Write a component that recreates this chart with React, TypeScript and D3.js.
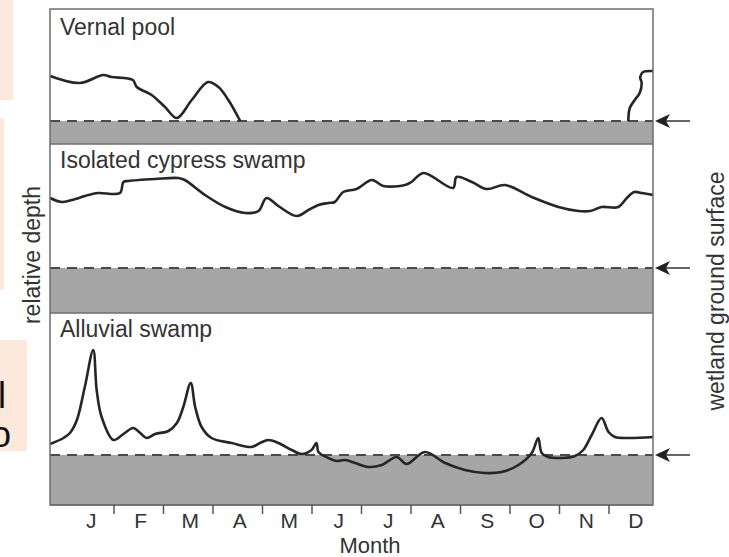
import React, { useEffect, useRef } from "react";
import * as d3 from "d3";

// month position (0 = start of Jan, 12 = end of Dec), relative depth (0 = ground surface)
type Pt = [number, number | null];

const vernalPool: Pt[] = [
  [-0.29, 0.45], [0.31, 0.38], [0.78, 0.46], [0.95, 0.44], [1.38, 0.41], [1.46, 0.34],
  [1.76, 0.26], [2.03, 0.14], [2.27, 0.03], [2.57, 0.21], [2.9, 0.39], [3.11, 0.34],
  [3.31, 0.21], [3.55, 0.0], [7.0, null],
  [11.39, 0.0], [11.42, 0.13], [11.52, 0.21], [11.62, 0.28], [11.66, 0.38],
  [11.63, 0.44], [11.69, 0.49], [11.86, 0.5], [11.89, 0.5],
];

const cypressSwamp: Pt[] = [
  [-0.29, 0.7], [-0.06, 0.66], [0.15, 0.68], [0.48, 0.73], [0.68, 0.75], [1.12, 0.75],
  [1.19, 0.86], [1.29, 0.87], [1.83, 0.89], [2.3, 0.9], [2.43, 0.88], [2.84, 0.73],
  [3.25, 0.61], [3.65, 0.55], [3.92, 0.57], [4.08, 0.7], [4.32, 0.62], [4.69, 0.52],
  [4.93, 0.58], [5.13, 0.63], [5.33, 0.65], [5.46, 0.66], [5.63, 0.76], [5.9, 0.79],
  [6.21, 0.88], [6.44, 0.82], [6.88, 0.83], [7.01, 0.86], [7.25, 0.95], [7.85, 0.8],
  [7.92, 0.91], [8.23, 0.86], [8.53, 0.79], [8.9, 0.83], [9.44, 0.71], [9.98, 0.61],
  [10.38, 0.57], [10.62, 0.57], [10.85, 0.61], [11.19, 0.61], [11.36, 0.7], [11.51, 0.76],
  [11.66, 0.75], [11.89, 0.73],
];

const alluvialSwamp: Pt[] = [
  [-0.29, 0.11], [-0.02, 0.17], [0.11, 0.22], [0.25, 0.35], [0.41, 0.68], [0.58, 1.05],
  [0.65, 0.65], [0.75, 0.38], [0.99, 0.15], [1.19, 0.21], [1.39, 0.27], [1.53, 0.22],
  [1.66, 0.17], [1.83, 0.21], [2.1, 0.24], [2.27, 0.32], [2.4, 0.48], [2.55, 0.72],
  [2.64, 0.48], [2.77, 0.28], [2.97, 0.17], [3.38, 0.12], [3.78, 0.08], [3.95, 0.12],
  [4.12, 0.15], [4.32, 0.12], [4.59, 0.05], [4.79, 0.01], [4.99, 0.05], [5.09, 0.12],
  [5.13, 0.03], [5.33, -0.03], [5.5, -0.06], [5.67, -0.05], [5.87, -0.08], [6.14, -0.12],
  [6.41, -0.1], [6.71, -0.02], [6.91, -0.09], [7.28, 0.03], [7.69, -0.08], [8.09, -0.15],
  [8.49, -0.18], [8.83, -0.17], [9.17, -0.1], [9.44, 0.02], [9.57, 0.17], [9.64, 0.02],
  [9.77, -0.02], [10.04, -0.03], [10.31, -0.01], [10.48, 0.05], [10.65, 0.2], [10.85, 0.37],
  [10.99, 0.23], [11.12, 0.18], [11.39, 0.17], [11.89, 0.18],
];

const panelTitles = ["Vernal pool", "Isolated cypress swamp", "Alluvial swamp"];
const monthLabels = ["J", "F", "M", "A", "M", "J", "J", "A", "S", "O", "N", "D"];

const W = 729;
const H = 557;
const FONT = "'Liberation Sans', Arial, Helvetica, sans-serif";

const App = () => {
  const ref = useRef<SVGSVGElement | null>(null);

  useEffect(() => {
    const svg = d3.select(ref.current);
    svg.selectAll("*").remove();

    const frameLeft = 50;
    const frameRight = 653;
    const frameTop = 9;
    const frameBottom = 505;

    // month scale (tick between months sits at whole numbers)
    const x = d3.scaleLinear().domain([0, 12]).range([64.5, 658.5]);

    // panel layout: top, ground surface line, bottom
    const panels = [
      { top: frameTop, surface: 121, bottom: 144, data: vernalPool },
      { top: 144, surface: 268, bottom: 313, data: cypressSwamp },
      { top: 313, surface: 455, bottom: frameBottom, data: alluvialSwamp },
    ];

    svg.append("rect").attr("width", W).attr("height", H).attr("fill", "#fff");

    // slide remnants at the left edge
    svg.append("rect").attr("x", 0).attr("y", 0).attr("width", 13).attr("height", 100).attr("fill", "#fde8dc");
    svg.append("rect").attr("x", 0).attr("y", 118).attr("width", 4).attr("height", 172).attr("fill", "#fde8dc");
    svg.append("rect").attr("x", 0).attr("y", 340).attr("width", 27).attr("height", 111).attr("fill", "#fde8dc");
    svg.append("text").attr("x", 6).attr("y", 408).attr("text-anchor", "end")
      .style("font-family", FONT).style("font-size", "36px").attr("fill", "#111").text("l");
    svg.append("text").attr("x", 11).attr("y", 447).attr("text-anchor", "end")
      .style("font-family", FONT).style("font-size", "36px").attr("fill", "#111").text("o");

    panels.forEach((p, i) => {
      const y = d3.scaleLinear().domain([0, 1]).range([p.surface, p.surface - 100]);

      svg.append("rect")
        .attr("x", frameLeft).attr("y", p.surface)
        .attr("width", frameRight - frameLeft).attr("height", p.bottom - p.surface)
        .attr("fill", "#a6a6a6");

      svg.append("line")
        .attr("x1", frameLeft).attr("x2", frameRight)
        .attr("y1", p.bottom).attr("y2", p.bottom)
        .attr("stroke", "#6e6e6e").attr("stroke-width", 1.5);

      svg.append("line")
        .attr("x1", frameLeft).attr("x2", frameRight)
        .attr("y1", y(0)).attr("y2", y(0))
        .attr("stroke", "#4a4a4a").attr("stroke-width", 2)
        .attr("stroke-dasharray", "10,7");

      const line = d3.line<Pt>()
        .defined(d => d[1] !== null)
        .x(d => x(d[0]))
        .y(d => y(d[1] as number))
        .curve(d3.curveCatmullRom.alpha(0.5));

      svg.append("path")
        .attr("d", line(p.data))
        .attr("fill", "none")
        .attr("stroke", "#262626")
        .attr("stroke-width", 2.6)
        .attr("stroke-linejoin", "round");

      svg.append("text")
        .attr("x", frameLeft + 10)
        .attr("y", p.top + (i === 0 ? 26 : 24))
        .style("font-family", FONT).style("font-size", "23px")
        .attr("fill", "#333")
        .text(panelTitles[i]);

      // ground surface arrow
      const ay = y(0);
      svg.append("line")
        .attr("x1", frameRight + 12).attr("x2", frameRight + 37)
        .attr("y1", ay).attr("y2", ay)
        .attr("stroke", "#333").attr("stroke-width", 1.5);
      svg.append("path")
        .attr("d", `M${frameRight + 2},${ay} L${frameRight + 17},${ay - 7} L${frameRight + 13},${ay} L${frameRight + 17},${ay + 7} Z`)
        .attr("fill", "#222");
    });

    svg.append("rect")
      .attr("x", frameLeft).attr("y", frameTop)
      .attr("width", frameRight - frameLeft).attr("height", frameBottom - frameTop)
      .attr("fill", "none").attr("stroke", "#6e6e6e").attr("stroke-width", 1.5);

    // month ticks between the labels
    svg.selectAll(".tick")
      .data(d3.range(1, 12))
      .enter()
      .append("line")
      .attr("x1", d => x(d)).attr("x2", d => x(d))
      .attr("y1", frameBottom).attr("y2", frameBottom + 9)
      .attr("stroke", "#555").attr("stroke-width", 1.5);

    svg.selectAll(".month")
      .data(monthLabels)
      .enter()
      .append("text")
      .attr("x", (d, i) => x(i + 0.5) + 2)
      .attr("y", 528)
      .attr("text-anchor", "middle")
      .style("font-family", FONT).style("font-size", "21px")
      .attr("fill", "#333")
      .text(d => d);

    svg.append("text")
      .attr("x", 370).attr("y", 553)
      .attr("text-anchor", "middle")
      .style("font-family", FONT).style("font-size", "22px")
      .attr("fill", "#333")
      .text("Month");

    svg.append("text")
      .attr("transform", "translate(40, 255) rotate(-90)")
      .attr("text-anchor", "middle")
      .style("font-family", FONT).style("font-size", "23px")
      .attr("fill", "#333")
      .text("relative depth");

    svg.append("text")
      .attr("transform", "translate(724, 291) rotate(-90)")
      .attr("text-anchor", "middle")
      .style("font-family", FONT).style("font-size", "23px")
      .attr("fill", "#333")
      .text("wetland ground surface");
  }, []);

  return (
    <svg
      ref={ref}
      width={W}
      height={H}
      style={{ position: "absolute", left: 0, top: 0, display: "block" }}
    />
  );
};

export default App;
